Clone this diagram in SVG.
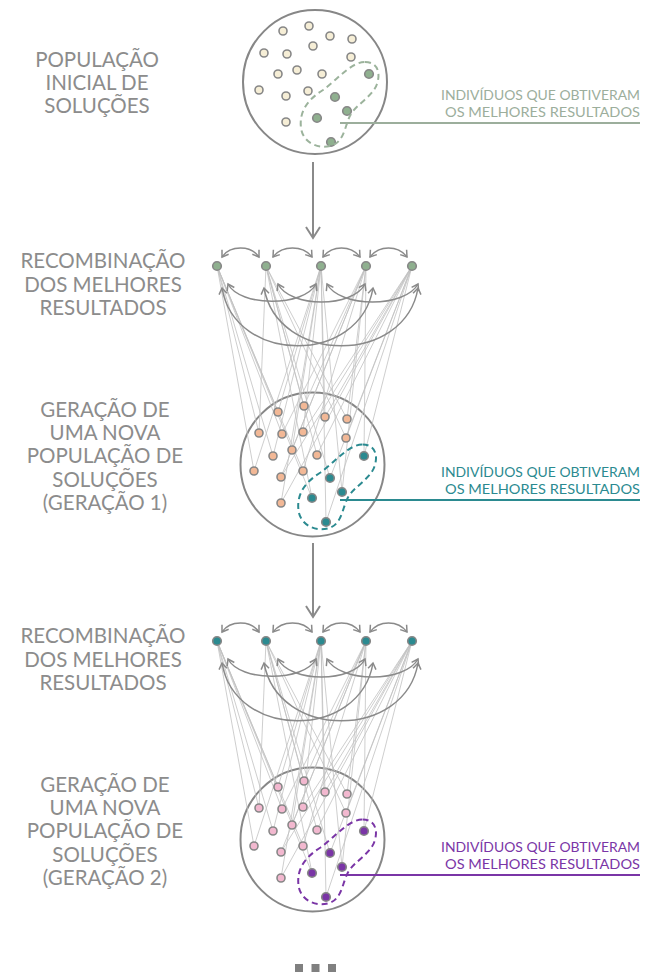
<svg xmlns="http://www.w3.org/2000/svg" width="646" height="974" viewBox="0 0 646 974">
<style>
.lbl{font-family:Lato,"Liberation Sans",sans-serif;font-size:20.5px;fill:#8c8c8c;text-anchor:middle}
.rl{font-family:Lato,"Liberation Sans",sans-serif;font-size:12.5px;text-anchor:end}
.pop{fill:#fff;stroke:#878787;stroke-width:2}
.dot{stroke:#878787;stroke-width:1.6}
.cream{fill:#f6eed6}.green{fill:#8fb08f}.orange{fill:#f2b896}.teal{fill:#2b8a90}.pink{fill:#f2b8cf}.purple{fill:#7a35a6}
.fan{fill:none;stroke:#c2c2c2;stroke-width:0.8}
.arc{fill:none;stroke:#8a8a8a;stroke-width:1.5;marker-start:url(#ah);marker-end:url(#ah)}
.blob{fill:none;stroke-width:2;stroke-dasharray:6 4}
</style>
<defs>
<marker id="ah" viewBox="-9 -6 11 12" refX="0" refY="0" markerWidth="11" markerHeight="12" markerUnits="userSpaceOnUse" orient="auto-start-reverse">
<path d="M-6,-4 L0,0 L-6,4" fill="none" stroke="#8a8a8a" stroke-width="1.5"/>
</marker>
<marker id="big" viewBox="-13 -9 15 18" refX="0" refY="0" markerWidth="15" markerHeight="18" markerUnits="userSpaceOnUse" orient="auto">
<path d="M-11,-7 L0,0 L-11,7" fill="none" stroke="#8a8a8a" stroke-width="2"/>
</marker>
<path id="blobp" d="M50,-20 C62,-20 66,-10 62,2 C58,14 42,22 36,32 C30,42 30,58 18,63 C6,68 -12,62 -14,46 C-16,30 -8,18 8,8 C22,-2 36,-20 50,-20 Z"/>
<g id="toparcs">
<path class="arc" d="M222,257 C230,245 251,245 259,257"/>
<path class="arc" d="M273,257 C282,245 303,245 312,257"/>
<path class="arc" d="M323,257 C332,245 351,245 360,257"/>
<path class="arc" d="M370,257 C379,245 398,245 407,257"/>
<path class="arc" d="M228,284 C240,307 304,307 316,284"/>
<path class="arc" d="M278,284 C290,308 353,308 365,284"/>
<path class="arc" d="M327,284 C340,308 405,308 418,284"/>
<path class="arc" d="M222,288 C235,365 360,365 373,288"/>
<path class="arc" d="M264,288 C278,365 405,365 418,288"/>
</g>
</defs>

<g id="labels-left">
<text class="lbl" x="97" y="67">POPULAÇÃO</text>
<text class="lbl" x="97" y="90">INICIAL DE</text>
<text class="lbl" x="97" y="113">SOLUÇÕES</text>
<text class="lbl" x="103" y="268">RECOMBINAÇÃO</text>
<text class="lbl" x="103" y="292">DOS MELHORES</text>
<text class="lbl" x="103" y="315">RESULTADOS</text>
<text class="lbl" x="105" y="417">GERAÇÃO DE</text>
<text class="lbl" x="105" y="440">UMA NOVA</text>
<text class="lbl" x="105" y="463">POPULAÇÃO DE</text>
<text class="lbl" x="105" y="487">SOLUÇÕES</text>
<text class="lbl" x="105" y="510">(GERAÇÃO 1)</text>
<text class="lbl" x="103" y="643">RECOMBINAÇÃO</text>
<text class="lbl" x="103" y="667">DOS MELHORES</text>
<text class="lbl" x="103" y="690">RESULTADOS</text>
<text class="lbl" x="105" y="792">GERAÇÃO DE</text>
<text class="lbl" x="105" y="815">UMA NOVA</text>
<text class="lbl" x="105" y="838">POPULAÇÃO DE</text>
<text class="lbl" x="105" y="862">SOLUÇÕES</text>
<text class="lbl" x="105" y="885">(GERAÇÃO 2)</text>
</g>

<g id="pop0">
<circle class="pop" cx="315" cy="82" r="72"/>
<g class="dot cream">
<circle cx="283" cy="31" r="4"/><circle cx="309" cy="26" r="4"/><circle cx="330" cy="36" r="4"/><circle cx="352" cy="39" r="4"/><circle cx="313" cy="46" r="4"/><circle cx="264" cy="53" r="4"/><circle cx="287" cy="54" r="4"/><circle cx="351" cy="57" r="4"/><circle cx="278" cy="74" r="4"/><circle cx="297" cy="70" r="4"/><circle cx="322" cy="74" r="4"/><circle cx="259" cy="90" r="4"/><circle cx="286" cy="96" r="4"/><circle cx="308" cy="91" r="4"/><circle cx="286" cy="122" r="4"/>
</g>
<g class="dot green">
<circle cx="369" cy="74" r="4.3"/><circle cx="335" cy="97" r="4.3"/><circle cx="347" cy="111" r="4.3"/><circle cx="317" cy="118" r="4.3"/><circle cx="331" cy="142" r="4.3"/>
</g>
<use href="#blobp" class="blob" stroke="#9cb39c" transform="translate(315,82)"/>
</g>

<g id="best0">
<line x1="340" y1="123" x2="640" y2="123" stroke="#9cae9c" stroke-width="1.8"/>
<text class="rl" x="640" y="100" fill="#9cae9c" textLength="199" lengthAdjust="spacingAndGlyphs">INDIVÍDUOS QUE OBTIVERAM</text>
<text class="rl" x="640" y="117" fill="#9cae9c" textLength="195" lengthAdjust="spacingAndGlyphs">OS MELHORES RESULTADOS</text>
</g>

<g id="pop1">
<circle class="pop" cx="312.5" cy="464.5" r="72"/>
</g>
<g id="pop2">
<circle class="pop" cx="312.5" cy="839.5" r="72"/>
</g>

<g id="connectors">
<line x1="313" y1="162" x2="313" y2="238" stroke="#8a8a8a" stroke-width="2" marker-end="url(#big)"/>
<line x1="313" y1="543" x2="313" y2="617" stroke="#8a8a8a" stroke-width="2" marker-end="url(#big)"/>
<path class="fan" d="M217,266 L278,412 M217,266 L259,433 M217,266 L282,434 M217,266 L273,456 M217,266 L254,471 M217,266 L303,471 M217,266 L312,498
M266,266 L304,406 M266,266 L347,419 M266,266 L259,433 M266,266 L346,438 M266,266 L317,455 M266,266 L330,478 M266,266 L312,498
M321,266 L278,412 M321,266 L325,417 M321,266 L303,432 M321,266 L273,456 M321,266 L292,450 M321,266 L254,471 M321,266 L281,503 M321,266 L342,492 M321,266 L326,522
M366,266 L304,406 M366,266 L347,419 M366,266 L282,434 M366,266 L292,450 M366,266 L281,477 M366,266 L303,471 M366,266 L364,456 M366,266 L342,492
M412,266 L325,417 M412,266 L303,432 M412,266 L346,438 M412,266 L317,455 M412,266 L281,477 M412,266 L281,503 M412,266 L364,456 M412,266 L330,478 M412,266 L326,522"/>
<path class="fan" d="M217,641 L278,787 M217,641 L259,808 M217,641 L282,809 M217,641 L273,831 M217,641 L254,846 M217,641 L303,846 M217,641 L312,873
M266,641 L304,781 M266,641 L347,794 M266,641 L259,808 M266,641 L346,813 M266,641 L317,830 M266,641 L330,853 M266,641 L312,873
M321,641 L278,787 M321,641 L325,792 M321,641 L303,807 M321,641 L273,831 M321,641 L292,825 M321,641 L254,846 M321,641 L281,878 M321,641 L342,867 M321,641 L326,897
M366,641 L304,781 M366,641 L347,794 M366,641 L282,809 M366,641 L292,825 M366,641 L281,852 M366,641 L303,846 M366,641 L364,831 M366,641 L342,867
M412,641 L325,792 M412,641 L303,807 M412,641 L346,813 M412,641 L317,830 M412,641 L281,852 M412,641 L281,878 M412,641 L364,831 M412,641 L330,853 M412,641 L326,897"/>
<use href="#toparcs"/>
<use href="#toparcs" transform="translate(0,375)"/>
</g>

<g id="gen1-dots">
<g class="dot orange">
<circle cx="278" cy="412" r="4"/><circle cx="304" cy="406" r="4"/><circle cx="325" cy="417" r="4"/><circle cx="347" cy="419" r="4"/><circle cx="259" cy="433" r="4"/><circle cx="282" cy="434" r="4"/><circle cx="303" cy="432" r="4"/><circle cx="346" cy="438" r="4"/><circle cx="273" cy="456" r="4"/><circle cx="292" cy="450" r="4"/><circle cx="317" cy="455" r="4"/><circle cx="254" cy="471" r="4"/><circle cx="281" cy="477" r="4"/><circle cx="303" cy="471" r="4"/><circle cx="281" cy="503" r="4"/>
</g>
<g class="dot teal">
<circle cx="364" cy="456" r="4.3"/><circle cx="330" cy="478" r="4.3"/><circle cx="342" cy="492" r="4.3"/><circle cx="312" cy="498" r="4.3"/><circle cx="326" cy="522" r="4.3"/>
</g>
<use href="#blobp" class="blob" stroke="#2b8a90" transform="translate(312.5,464.5)"/>
</g>

<g id="best1">
<line x1="340" y1="500" x2="640" y2="500" stroke="#2b8a90" stroke-width="1.8"/>
<text class="rl" x="640" y="477" fill="#2b8a90" textLength="199" lengthAdjust="spacingAndGlyphs">INDIVÍDUOS QUE OBTIVERAM</text>
<text class="rl" x="640" y="494" fill="#2b8a90" textLength="195" lengthAdjust="spacingAndGlyphs">OS MELHORES RESULTADOS</text>
</g>

<g id="gen2-dots">
<g class="dot pink">
<circle cx="278" cy="787" r="4"/><circle cx="304" cy="781" r="4"/><circle cx="325" cy="792" r="4"/><circle cx="347" cy="794" r="4"/><circle cx="259" cy="808" r="4"/><circle cx="282" cy="809" r="4"/><circle cx="303" cy="807" r="4"/><circle cx="346" cy="813" r="4"/><circle cx="273" cy="831" r="4"/><circle cx="292" cy="825" r="4"/><circle cx="317" cy="830" r="4"/><circle cx="254" cy="846" r="4"/><circle cx="281" cy="852" r="4"/><circle cx="303" cy="846" r="4"/><circle cx="281" cy="878" r="4"/>
</g>
<g class="dot purple">
<circle cx="364" cy="831" r="4.3"/><circle cx="330" cy="853" r="4.3"/><circle cx="342" cy="867" r="4.3"/><circle cx="312" cy="873" r="4.3"/><circle cx="326" cy="897" r="4.3"/>
</g>
<use href="#blobp" class="blob" stroke="#7a35a6" transform="translate(312.5,839.5)"/>
</g>

<g id="best2">
<line x1="340" y1="875" x2="640" y2="875" stroke="#7a35a6" stroke-width="1.8"/>
<text class="rl" x="640" y="852" fill="#7a35a6" textLength="199" lengthAdjust="spacingAndGlyphs">INDIVÍDUOS QUE OBTIVERAM</text>
<text class="rl" x="640" y="869" fill="#7a35a6" textLength="195" lengthAdjust="spacingAndGlyphs">OS MELHORES RESULTADOS</text>
</g>

<g id="recomb1">
<g id="r1n1"><circle class="dot green" cx="217" cy="266" r="4.3"/></g>
<g id="r1n2"><circle class="dot green" cx="266" cy="266" r="4.3"/></g>
<g id="r1n3"><circle class="dot green" cx="321" cy="266" r="4.3"/></g>
<g id="r1n4"><circle class="dot green" cx="366" cy="266" r="4.3"/></g>
<g id="r1n5"><circle class="dot green" cx="412" cy="266" r="4.3"/></g>
</g>
<g id="recomb2">
<g id="r2n1"><circle class="dot teal" cx="217" cy="641" r="4.3"/></g>
<g id="r2n2"><circle class="dot teal" cx="266" cy="641" r="4.3"/></g>
<g id="r2n3"><circle class="dot teal" cx="321" cy="641" r="4.3"/></g>
<g id="r2n4"><circle class="dot teal" cx="366" cy="641" r="4.3"/></g>
<g id="r2n5"><circle class="dot teal" cx="412" cy="641" r="4.3"/></g>
</g>

<g id="ellipsis">
<rect x="295" y="964" width="8" height="8" fill="#808080"/>
<rect x="311.5" y="964" width="8" height="8" fill="#808080"/>
<rect x="328" y="964" width="8" height="8" fill="#808080"/>
</g>
</svg>
